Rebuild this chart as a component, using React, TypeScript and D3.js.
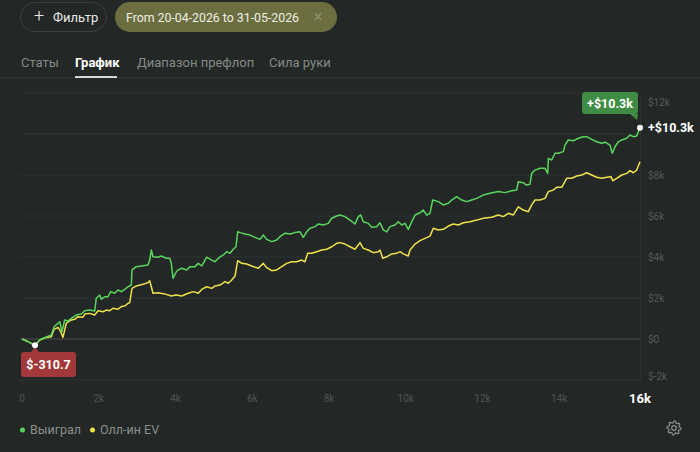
import React from "react";
import * as d3 from "d3";

// hand count / cumulative winnings
const wonHands = [
  0, 156, 340, 461, 592, 764, 834, 938, 982, 1042, 1113, 1199, 1285, 1415, 1545, 1634, 1764, 1895, 1936, 2025,
  2067, 2155, 2241, 2312, 2416, 2502, 2588, 2676, 2762, 2848, 2867, 2979, 3109, 3284, 3328, 3370, 3414, 3544, 3630, 3760,
  3849, 3891, 3935, 4021, 4073, 4162, 4292, 4378, 4508, 4594, 4683, 4813, 4944, 5030, 5116, 5246, 5335, 5420, 5506, 5577,
  5621, 5681, 5811, 5942, 6072, 6202, 6288, 6377, 6507, 6637, 6723, 6854, 6984, 7114, 7245, 7331, 7419, 7505, 7636, 7722,
  7852, 7982, 8071, 8201, 8287, 8417, 8548, 8678, 8764, 8827, 8894, 9024, 9113, 9243, 9329, 9415, 9504, 9590, 9720, 9806,
  9895, 9981, 10067, 10156, 10242, 10372, 10458, 10547, 10632, 10703, 10849, 10979, 11110, 11198, 11328, 11459, 11589, 11719, 11850, 12022,
  12196, 12413, 12587, 12762, 12892, 12934, 13064, 13152, 13238, 13283, 13369, 13499, 13629, 13700, 13716, 13804, 13890, 13976, 14106, 14151,
  14237, 14367, 14497, 14628, 14716, 14847, 14977, 15107, 15193, 15323, 15383, 15454, 15540, 15628, 15759, 15845, 15931, 16019, 16061, 16105,
];
const wonValues = [
  0, -130, -310.7, -50, 60, 200, 590, 770, 840, 360, 930, 880, 1010, 1170, 1220, 1380, 1410, 1370, 1990, 2150,
  1940, 2060, 2060, 2310, 2230, 2390, 2310, 2420, 2550, 2630, 3370, 3530, 3560, 3610, 3850, 4340, 4010, 3990, 4050, 3940,
  3940, 3690, 2960, 3280, 3370, 3450, 3370, 3530, 3530, 3690, 3560, 3990, 3850, 3770, 3940, 4100, 4260, 4180, 4380, 4500,
  5230, 5190, 5120, 5070, 4960, 4860, 5070, 4860, 4750, 4830, 4990, 5160, 5120, 5190, 5230, 4960, 5230, 5400, 5480, 5610,
  5560, 5640, 5890, 6000, 6050, 5970, 5800, 5610, 5970, 6050, 5720, 5640, 5450, 5480, 5670, 5320, 5230, 5480, 5560, 5720,
  5560, 5640, 5350, 5720, 6050, 6160, 6290, 6050, 6130, 6780, 6700, 6540, 6620, 6780, 6940, 6780, 6700, 6780, 6860, 7020,
  7110, 7190, 7140, 7230, 7270, 7670, 7620, 7510, 7550, 8080, 8240, 8330, 8330, 8080, 8810, 8730, 9060, 9060, 9140, 9460,
  9710, 9670, 9790, 9870, 9870, 9740, 9620, 9550, 9600, 9460, 9060, 9380, 9620, 9710, 9790, 9950, 9870, 9900, 10110, 10310,
];

const evHands = [
  0, 156, 340, 461, 592, 764, 834, 938, 1009, 1068, 1154, 1285, 1373, 1459, 1590, 1634, 1764, 1895, 1981, 2111,
  2197, 2286, 2371, 2502, 2588, 2676, 2762, 2807, 2867, 2979, 3153, 3284, 3328, 3370, 3414, 3544, 3719, 3891, 4021, 4162,
  4334, 4464, 4594, 4683, 4813, 4944, 5030, 5160, 5290, 5376, 5465, 5551, 5621, 5725, 5856, 5986, 6158, 6288, 6377, 6507,
  6637, 6768, 6898, 7028, 7159, 7289, 7375, 7445, 7550, 7680, 7810, 7941, 8071, 8201, 8287, 8417, 8548, 8678, 8808, 8894,
  9024, 9155, 9285, 9329, 9400, 9504, 9634, 9765, 9851, 9937, 10067, 10111, 10242, 10372, 10502, 10632, 10719, 10849, 10979, 11110,
  11240, 11370, 11501, 11675, 11850, 12022, 12241, 12413, 12543, 12673, 12804, 12934, 13064, 13195, 13283, 13369, 13499, 13629, 13716, 13846,
  13934, 14065, 14195, 14325, 14456, 14586, 14716, 14847, 14977, 15107, 15237, 15349, 15394, 15498, 15628, 15759, 15845, 15931, 16019, 16105,
];
const evValues = [
  0, -130, -310, -50, 60, 110, 470, 570, 360, 80, 770, 930, 960, 1090, 1060, 1220, 1250, 1170, 1380, 1330,
  1410, 1380, 1500, 1450, 1580, 1610, 1740, 1770, 2470, 2590, 2670, 2750, 2840, 2550, 2230, 2260, 2200, 2100, 2150, 2100,
  2230, 2310, 2230, 2420, 2550, 2470, 2590, 2630, 2800, 2720, 2880, 3070, 3820, 3690, 3660, 3560, 3450, 3690, 3480, 3330,
  3370, 3530, 3690, 3770, 3770, 3850, 3770, 4180, 4180, 4260, 4340, 4380, 4500, 4670, 4700, 4630, 4500, 4380, 4700, 4420,
  4340, 4210, 4260, 4340, 3940, 4010, 4150, 4180, 4260, 4150, 4050, 4340, 4630, 4800, 4910, 5020, 5400, 5320, 5350, 5510,
  5610, 5560, 5670, 5720, 5800, 5890, 5940, 6050, 5970, 6130, 6050, 6450, 6290, 6210, 6540, 6780, 6780, 6860, 7190, 7270,
  7400, 7400, 7840, 7840, 7950, 8000, 8110, 8000, 7890, 7840, 7890, 7920, 7720, 7840, 8000, 8080, 8210, 8110, 8240, 8650,
];

const yTicks = [12000, 10000, 8000, 6000, 4000, 2000, 0, -2000];
const xTicks = [0, 2000, 4000, 6000, 8000, 10000, 12000, 14000];
const tabs = ["Статы", "График", "Диапазон префлоп", "Сила руки"];
const tabX = [21, 75, 137, 269];

const W = 700;
const H = 452;
const FONT = "Roboto, 'Noto Sans', sans-serif";

const fmtK = (v: number) => (v === 0 ? "$0" : `$${v / 1000}k`);

function gearPath(cx: number, cy: number) {
  const pts: string[] = [];
  const teeth = 8;
  for (let i = 0; i < teeth * 4; i++) {
    const a = (i / (teeth * 4)) * Math.PI * 2;
    const r = i % 4 < 2 ? 7 : 5.3;
    pts.push(`${cx + r * Math.cos(a)},${cy + r * Math.sin(a)}`);
  }
  return "M" + pts.join("L") + "Z";
}

const App: React.FC = () => {
  const x = d3.scaleLinear().domain([0, 16105]).range([22, 640]);
  const y = d3.scaleLinear().domain([-2000, 12000]).range([380, 93]);

  const line = d3
    .line<[number, number]>()
    .x((d) => x(d[0]))
    .y((d) => y(d[1]));

  const won = wonHands.map((h, i) => [h, wonValues[i]] as [number, number]);
  const ev = evHands.map((h, i) => [h, evValues[i]] as [number, number]);

  const last = won[won.length - 1];
  const minIdx = d3.minIndex(wonValues);
  const minPt = won[minIdx];

  const ex = x(last[0]);
  const ey = y(last[1]);
  const mx = x(minPt[0]);
  const my = y(minPt[1]);

  return (
    <svg
      width={W}
      height={H}
      style={{ position: "fixed", left: 0, top: 0, background: "#232826" }}
      fontFamily={FONT}
    >
      <rect width={W} height={H} fill="#232826" />

      {/* header */}
      <rect x={20.5} y={2.5} width={86} height={29} rx={14.5} fill="none" stroke="#3b403d" />
      <text x={39} y={22} fill="#e8eae8" fontSize={18} fontWeight={300} textAnchor="middle">+</text>
      <text x={53} y={21.5} fill="#e8eae8" fontSize={13}>Фильтр</text>
      <rect x={115} y={2} width={222} height={30} rx={15} fill="#6c6e40" />
      <text x={126} y={21.5} fill="#eef0e4" fontSize={13} textLength={173} lengthAdjust="spacingAndGlyphs">
        From 20-04-2026 to 31-05-2026
      </text>
      <text x={318} y={21.5} fill="#8e9169" fontSize={16} textAnchor="middle">×</text>

      {/* tabs */}
      <line x1={0} x2={W} y1={78} y2={78} stroke="#313633" />
      {tabs.map((t, i) => (
        <text
          key={t}
          x={tabX[i]}
          y={67}
          fontSize={13}
          fill={i === 1 ? "#ffffff" : "#858a87"}
          fontWeight={i === 1 ? 700 : 400}
        >
          {t}
        </text>
      ))}
      <rect x={75} y={76} width={42} height={2} fill="#d5d8d6" />

      {/* grid */}
      {yTicks.map((v) => (
        <line
          key={v}
          x1={20}
          x2={640}
          y1={y(v)}
          y2={y(v)}
          stroke={v === 0 ? "#3e4340" : "#2d322f"}
          strokeWidth={v === 0 ? 1.5 : 1}
        />
      ))}
      <line x1={640.5} x2={640.5} y1={93} y2={380} stroke="#2d322f" />

      {yTicks
        .filter((v) => v !== 10000)
        .map((v) => (
          <text
            key={v}
            x={648}
            y={Math.min(376, Math.max(102, y(v)))}
            dy="0.35em"
            fontSize={10}
            fill="#555a57"
          >
            {fmtK(v)}
          </text>
        ))}

      {xTicks.map((v) => (
        <text key={v} x={x(v)} y={402} fontSize={10} fill="#4f5451" textAnchor="middle">
          {v === 0 ? "0" : `${v / 1000}k`}
        </text>
      ))}
      <text x={ex} y={403} fontSize={13} fontWeight={700} fill="#ffffff" textAnchor="middle">
        16k
      </text>

      {/* series */}
      <path d={line(ev) || ""} fill="none" stroke="#efe14a" strokeWidth={1.5} strokeLinejoin="round" />
      <path d={line(won) || ""} fill="none" stroke="#5ad65e" strokeWidth={1.5} strokeLinejoin="round" />

      {/* end label */}
      <rect x={582} y={92} width={56} height={22} rx={3} fill="#3f8c44" />
      <path d={`M${ex - 10},114 L${ex - 2},114 L${ex - 3},120 Z`} fill="#3f8c44" />
      <text x={610} y={107.5} fontSize={12.5} fontWeight={700} fill="#ffffff" textAnchor="middle">
        +$10.3k
      </text>
      <circle cx={ex} cy={ey} r={3} fill="#ffffff" />
      <text x={648} y={ey} dy="0.35em" fontSize={12.5} fontWeight={700} fill="#ffffff">
        +$10.3k
      </text>

      {/* min label */}
      <rect x={21} y={352} width={55} height={25} rx={3} fill="#a3383a" />
      <path d={`M${mx - 4},352 L${mx + 4},352 L${mx},347 Z`} fill="#a3383a" />
      <text x={48.5} y={369} fontSize={12.5} fontWeight={700} fill="#ffffff" textAnchor="middle">
        $-310.7
      </text>
      <circle cx={mx} cy={my} r={3} fill="#ffffff" />

      {/* legend */}
      <circle cx={22.5} cy={430} r={2.5} fill="#5ad65e" />
      <text x={30} y={434} fontSize={12.5} fill="#8a8f8c">Выиграл</text>
      <circle cx={92.5} cy={430} r={2.5} fill="#efe14a" />
      <text x={100} y={434} fontSize={12.5} fill="#8a8f8c">Олл-ин EV</text>

      {/* settings */}
      <path d={gearPath(674, 428)} fill="none" stroke="#8a8f8c" strokeWidth={1.2} strokeLinejoin="round" />
      <circle cx={674} cy={428} r={2.3} fill="none" stroke="#8a8f8c" strokeWidth={1.2} />
    </svg>
  );
};

export default App;
